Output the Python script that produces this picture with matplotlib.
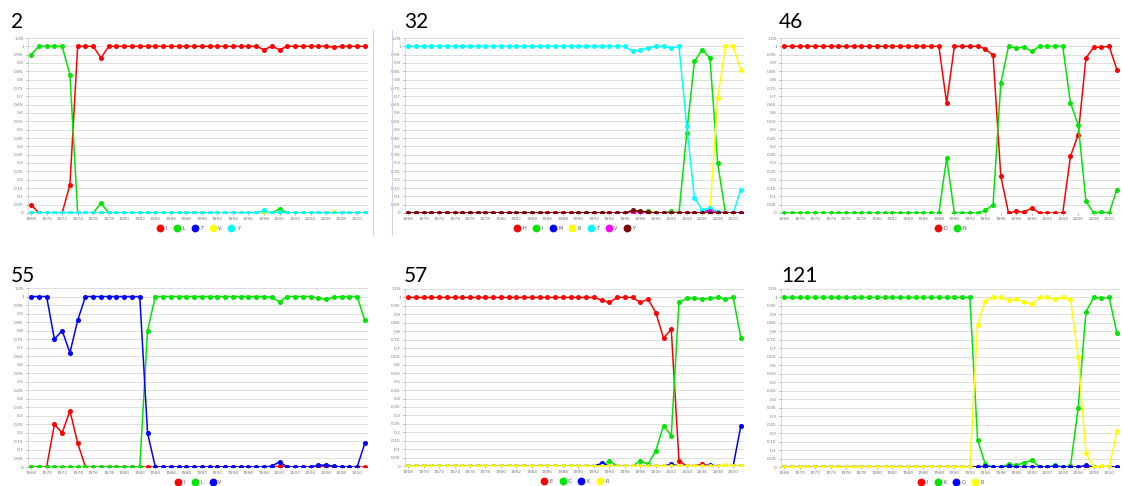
import numpy as np
import matplotlib
matplotlib.use("Agg")
import matplotlib.pyplot as plt
from matplotlib.lines import Line2D

# years on the x axis
years = list(range(1968, 2012))
z11 = [0] * 11
o11 = [1] * 11

# ---- panel "2" ----
p2_I = [0.05, 0, 0, 0, 0, 0.17, 1, 1, 1, 0.93, 1] + o11 + \
       [1, 1, 1, 1, 1, 1, 1, 1, 0.98, 1, 0.98] + \
       [1, 1, 1, 1, 1, 1, 0.995, 1, 1, 1, 1]
p2_L = [0.95, 1, 1, 1, 1, 0.83, 0, 0, 0, 0.06, 0] + z11 + \
       [0, 0, 0, 0, 0, 0, 0, 0, 0.005, 0, 0.025] + z11
p2_T = z11 + z11 + z11 + z11
p2_V = z11 + z11 + [0, 0, 0, 0, 0, 0, 0, 0, 0.003, 0, 0] + \
       [0, 0, 0, 0, 0, 0, 0.005, 0, 0, 0, 0]
p2_Y = z11 + z11 + [0, 0, 0, 0, 0, 0, 0, 0, 0.015, 0, 0.003] + z11

# ---- panel "32" ----
p32_H = z11 + z11 + z11 + z11
p32_I = z11 + z11 + [0, 0, 0, 0, 0, 0, 0, 0.01, 0.005, 0.01, 0] + \
        [0, 0.01, 0, 0.48, 0.91, 0.98, 0.93, 0.3, 0, 0, 0]
p32_M = z11 + z11 + z11 + [0, 0, 0, 0, 0, 0, 0.02, 0.005, 0, 0, 0]
p32_R = z11 + z11 + z11 + [0, 0, 0, 0, 0, 0, 0.01, 0.69, 1, 1, 0.86]
p32_T = o11 + o11 + [1, 1, 1, 1, 1, 1, 1, 0.97, 0.98, 0.99, 1] + \
        [1, 0.99, 1, 0.52, 0.09, 0.02, 0.03, 0.005, 0, 0, 0.14]
p32_V = z11 + z11 + z11 + [0, 0, 0, 0, 0, 0, 0.01, 0, 0, 0, 0]
p32_Y = z11 + z11 + [0, 0, 0, 0, 0, 0, 0, 0.015, 0.012, 0.005, 0] + z11

# ---- panel "46" ----
p46_D = o11 + [1, 1, 1, 1, 1, 1, 1, 1, 1, 1, 0.66] + \
        [1, 1, 1, 1, 0.985, 0.945, 0.22, 0, 0.01, 0.005, 0.03] + \
        [0, 0, 0, 0, 0.34, 0.47, 0.93, 0.995, 0.995, 1, 0.86]
p46_N = z11 + [0, 0, 0, 0, 0, 0, 0, 0, 0, 0, 0.33] + \
        [0, 0, 0, 0, 0.015, 0.05, 0.78, 1, 0.99, 0.995, 0.97] + \
        [1, 1, 1, 1, 0.66, 0.53, 0.07, 0, 0.005, 0, 0.14]

# ---- panel "55" ----
p55_I = [0, 0, 0, 0.25, 0.2, 0.33, 0.14, 0, 0, 0, 0] + z11 + \
        [0, 0, 0, 0, 0, 0, 0, 0, 0, 0, 0.003] + \
        [0, 0, 0, 0, 0, 0.005, 0, 0, 0, 0, 0]
p55_L = z11 + [0, 0, 0, 0, 0.8, 1, 1, 1, 1, 1, 1] + \
        [1, 1, 1, 1, 1, 1, 1, 1, 1, 0.995, 0.97] + \
        [1, 1, 1, 1, 0.99, 0.985, 0.995, 1, 1, 1, 0.86]
p55_V = [1, 1, 1, 0.75, 0.8, 0.67, 0.86, 1, 1, 1, 1] + \
        [1, 1, 1, 1, 0.2, 0, 0, 0, 0, 0, 0] + \
        [0, 0, 0, 0, 0, 0, 0, 0, 0, 0.005, 0.03] + \
        [0, 0, 0, 0, 0.01, 0.012, 0.005, 0, 0, 0, 0.14]

# ---- panel "57" ----
p57_E = o11 + o11 + [1, 1, 1, 0.985, 0.97, 1, 1, 1, 0.97, 0.99, 0.91] + \
        [0.76, 0.81, 0.03, 0, 0, 0.01, 0, 0, 0, 0, 0]
p57_G = z11 + z11 + [0, 0, 0, 0, 0.03, 0, 0, 0, 0.03, 0.01, 0.09] + \
        [0.24, 0.18, 0.97, 0.995, 0.995, 0.99, 0.995, 1, 0.99, 1, 0.76]
p57_K = z11 + z11 + [0, 0, 0, 0.015, 0, 0, 0, 0, 0, 0, 0] + \
        [0, 0.01, 0, 0, 0, 0, 0.005, 0, 0, 0, 0.24]
p57_R = z11 + z11 + z11 + [0, 0, 0, 0, 0, 0, 0, 0, 0.005, 0, 0]

# ---- panel "121" ----
p121_I = z11 + z11 + z11 + [0, 0, 0, 0, 0.003, 0, 0, 0, 0, 0, 0]
p121_K = o11 + o11 + [1, 1, 1, 0.16, 0.015, 0, 0, 0.015, 0.01, 0.025, 0.04] + \
         [0, 0, 0.01, 0, 0.005, 0.35, 0.915, 1, 0.995, 1, 0.79]
p121_Q = z11 + z11 + [0, 0, 0, 0, 0.005, 0, 0, 0.003, 0, 0, 0] + \
         [0, 0, 0.005, 0, 0, 0, 0.01, 0, 0, 0, 0]
p121_R = z11 + z11 + [0, 0, 0, 0.84, 0.98, 1, 1, 0.985, 0.99, 0.975, 0.96] + \
         [1, 1, 0.99, 1, 0.99, 0.65, 0.08, 0, 0.005, 0, 0.21]

RED, GREEN, BLUE, YEL, CYAN, MAG, BROWN = ("#ff0000", "#00e600", "#0000ff",
                                         "#ffff00", "#00ffff", "#ff00ff", "#800000")

panels = [
    ("2", [("I", RED, p2_I), ("L", GREEN, p2_L), ("T", BLUE, p2_T),
           ("V", YEL, p2_V), ("Y", CYAN, p2_Y)]),
    ("32", [("H", RED, p32_H), ("I", GREEN, p32_I), ("M", BLUE, p32_M),
            ("R", YEL, p32_R), ("T", CYAN, p32_T), ("V", MAG, p32_V),
            ("Y", BROWN, p32_Y)]),
    ("46", [("D", RED, p46_D), ("N", GREEN, p46_N)]),
    ("55", [("I", RED, p55_I), ("L", GREEN, p55_L), ("V", BLUE, p55_V)]),
    ("57", [("E", RED, p57_E), ("G", GREEN, p57_G), ("K", BLUE, p57_K),
            ("R", YEL, p57_R)]),
    ("121", [("I", RED, p121_I), ("K", GREEN, p121_K), ("Q", BLUE, p121_Q),
             ("R", YEL, p121_R)]),
]

W, H = 1123, 486
fig = plt.figure(figsize=(W / 100, H / 100), dpi=100)

# axes boxes in pixels: left, top, right, bottom
boxes = [(28, 38, 368, 213), (405, 38, 744, 213), (781, 38, 1120, 213),
         (28, 288, 368, 467), (405, 289, 744, 466), (781, 289, 1120, 467)]
title_pos = [(11, 28), (404, 28), (779, 28), (11, 282), (404, 282), (781, 282)]

yt = np.arange(0, 1.0501, 0.05)
for (name, series), (l, t, r, b), (tx, ty) in zip(panels, boxes, title_pos):
    ax = fig.add_axes([l / W, 1 - b / H, (r - l) / W, (b - t) / H])
    for lab, col, vals in series:
        ax.plot(years, vals, color=col, lw=1.1, marker="o", ms=2.6,
                mec=col, mfc=col, zorder=3)
    ax.set_xlim(1967.6, 2011.4)
    ax.set_ylim(0, 1.05)
    ax.set_yticks(yt)
    ax.set_yticklabels([f"{v:g}" for v in np.round(yt, 2)])
    ax.set_xticks(range(1968, 2011, 2))
    ax.tick_params(labelsize=3.2, colors="#777777", length=1.5, width=0.4, pad=1.5)
    ax.grid(axis="y", color="#dddddd", lw=0.7)
    for s in ("top", "right", "bottom"):
        ax.spines[s].set_visible(False)
    ax.spines["left"].set_color("#cccccc")
    ax.spines["left"].set_linewidth(0.5)
    ax.set_axisbelow(True)

    handles = [Line2D([], [], ls="", marker="o", ms=4.6, color=c)
               for _, c, _ in series]
    off = 15 / (b - t)
    ax.legend(handles, [s[0] for s in series], loc="center",
              bbox_to_anchor=(0.5, -off), ncol=len(series), frameon=False,
              fontsize=3.5, handlelength=1.6, handletextpad=0.3,
              columnspacing=1.2, labelcolor="#555555")

    fig.text(tx / W, 1 - ty / H, name, fontsize=15, family="Lato",
             ha="left", va="baseline")

# faint container borders between first two panels
for x in (373, 392):
    fig.add_artist(Line2D([x / W, x / W], [1 - 30 / H, 1 - 235 / H],
                          color="#c8d8ee", lw=0.8))

fig.savefig("out.png", dpi=100)
